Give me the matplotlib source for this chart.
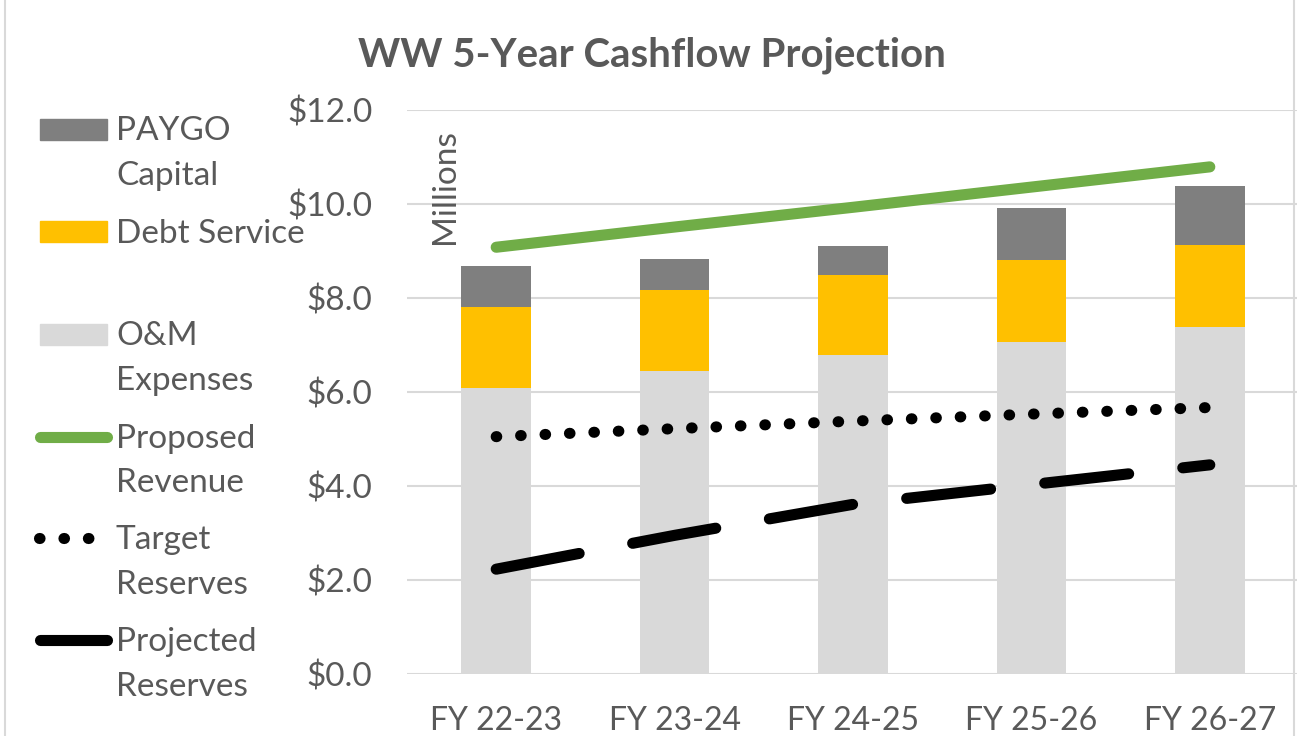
import matplotlib.pyplot as plt
from matplotlib.lines import Line2D
from matplotlib.patches import Rectangle
from matplotlib.ticker import FuncFormatter

years = ["FY 22-23", "FY 23-24", "FY 24-25", "FY 25-26", "FY 26-27"]
om_expenses = [6.08, 6.44, 6.78, 7.07, 7.39]
debt_service = [1.73, 1.73, 1.72, 1.73, 1.73]
paygo_capital = [0.88, 0.66, 0.61, 1.12, 1.27]
proposed_revenue = [9.08, 9.51, 9.93, 10.36, 10.79]
target_reserves = [5.05, 5.22, 5.38, 5.53, 5.67]
projected_reserves = [2.23, 2.95, 3.61, 4.03, 4.45]

text_color = '#595959'
grid_color = '#D9D9D9'
c_om = '#D9D9D9'
c_debt = '#FFC000'
c_paygo = '#7F7F7F'
c_green = '#70AD47'

plt.rcParams['font.family'] = ['Lato', 'DejaVu Sans']
W, H = 1297, 736
fig = plt.figure(figsize=(W / 100, H / 100), dpi=100)


def px(x, y):
    return x / W, 1 - y / H


ax = fig.add_axes([407 / W, 1 - 674 / H, (1299 - 407) / W, (674 - 110) / H])
x = range(len(years))
bw = 0.39
ax.bar(x, om_expenses, bw, color=c_om, zorder=2)
base2 = om_expenses
ax.bar(x, debt_service, bw, bottom=base2, color=c_debt, zorder=2)
base3 = [a + b for a, b in zip(om_expenses, debt_service)]
ax.bar(x, paygo_capital, bw, bottom=base3, color=c_paygo, zorder=2)

ax.plot(x, proposed_revenue, color=c_green, lw=8, solid_capstyle='round', zorder=3)
ax.plot(x, target_reserves, color='black', lw=8, dashes=(0.05, 2.15),
        dash_capstyle='round', zorder=3)
ax.plot(x, projected_reserves, color='black', lw=8, dashes=(7.6, 4.9),
        dash_capstyle='round', zorder=3)

ax.set_xlim(-0.5, 4.5)
ax.set_ylim(0, 12)
ax.set_yticks([0, 2, 4, 6, 8, 10, 12])
ax.yaxis.set_major_formatter(FuncFormatter(lambda v, p: '${:.1f}'.format(v)))
ax.set_xticks(list(x))
ax.set_xticklabels(years)
ax.tick_params(axis='y', length=0, pad=25, labelsize=24, labelcolor=text_color)
ax.tick_params(axis='x', length=0, pad=23, labelsize=23, labelcolor=text_color)
ax.grid(axis='y', color=grid_color, lw=1.5, zorder=0)
for s in ax.spines.values():
    s.set_visible(False)

fig.text(*px(652, 55), 'WW 5-Year Cashflow Projection', ha='center', va='center',
         fontsize=29, fontweight='bold', color=text_color)
fig.text(*px(445, 187), 'Millions', rotation=90, ha='center', va='center',
         fontsize=24, color=text_color)

# legend drawn by hand so keys line up with the first text line
fs = 24
for y0, col in [(119, c_paygo), (221, c_debt), (324, c_om)]:
    fig.add_artist(Rectangle(px(40, y0 + 21), 67 / W, 21 / H, color=col,
                             transform=fig.transFigure))
fig.add_artist(Line2D([40 / W, 107 / W], [1 - 437 / H] * 2, color=c_green, lw=8,
                      solid_capstyle='round', transform=fig.transFigure))
fig.add_artist(Line2D([39 / W, 90 / W], [1 - 538 / H] * 2, color='black', lw=8,
                      dashes=(0.05, 2.15), dash_capstyle='round',
                      transform=fig.transFigure))
fig.add_artist(Line2D([40 / W, 107 / W], [1 - 640 / H] * 2, color='black', lw=8,
                      solid_capstyle='round', transform=fig.transFigure))

labels = [("PAYGO", 140), ("Capital", 185), ("Debt Service", 243),
          ("O&M", 345), ("Expenses", 390), ("Proposed", 448), ("Revenue", 492),
          ("Target", 549), ("Reserves", 594), ("Projected", 651), ("Reserves", 696)]
for txt, yb in labels:
    fig.text(*px(116, yb), txt, ha='left', va='baseline', fontsize=fs, color=text_color)

fig.add_artist(Line2D([5 / W, 5 / W], [0, 1], color=grid_color, lw=1.5,
                      transform=fig.transFigure))
fig.add_artist(Line2D([1294 / W, 1294 / W], [0, 1], color=grid_color, lw=1.5,
                      transform=fig.transFigure))

fig.savefig('out.png', dpi=100)
